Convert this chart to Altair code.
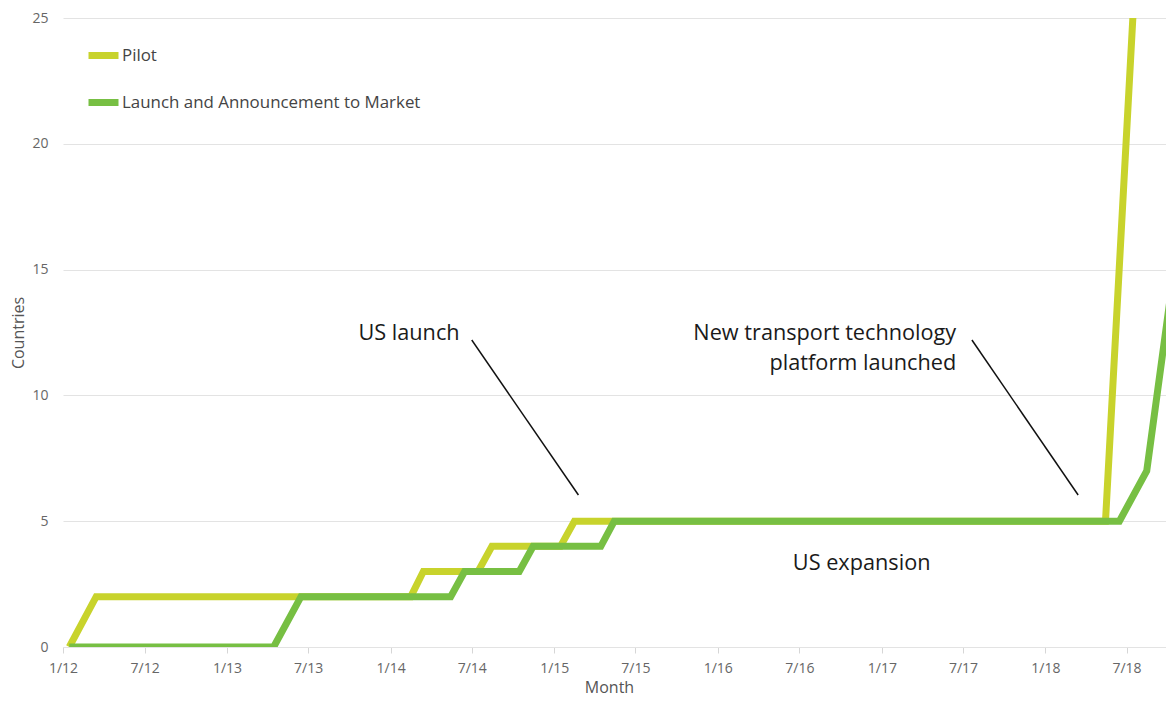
import altair as alt
import pandas as pd

# ---- data ----
series_names = ["Pilot", "Launch and Announcement to Market"]
series_colors = ["#c8d32c", "#77bf43"]

pilot_dates = ["2012-01-15", "2012-03-15", "2014-02-15", "2014-03-15", "2014-07-15",
               "2014-08-15", "2015-01-15", "2015-02-15", "2018-05-15", "2018-07-15",
               "2018-08-15"]
pilot_values = [0, 2, 2, 3, 3, 4, 4, 5, 5, 25, 35]

launch_dates = ["2012-01-15", "2013-04-15", "2013-06-15", "2014-05-15", "2014-06-15",
                "2014-10-15", "2014-11-15", "2015-04-15", "2015-05-15", "2018-06-15",
                "2018-08-15", "2018-10-15"]
launch_values = [0, 0, 2, 2, 3, 3, 4, 4, 5, 5, 7, 15]

x_tick_years = [2012, 2012, 2013, 2013, 2014, 2014, 2015, 2015, 2016, 2016, 2017, 2017, 2018, 2018]
x_tick_months = [1, 7, 1, 7, 1, 7, 1, 7, 1, 7, 1, 7, 1, 7]
y_ticks = [0, 5, 10, 15, 20, 25]

note_center_text = ["US launch", "US expansion"]
note_center_dates = ["2014-02-11", "2016-11-17"]
note_center_values = [12.2, 3.06]

note_right_text = ["New transport technology", "platform launched"]
note_right_dates = ["2017-06-16", "2017-06-16"]
note_right_values = [12.2, 11.0]

pointer_start_dates = ["2014-07-01", "2017-07-21"]
pointer_start_values = [12.2, 12.2]
pointer_end_dates = ["2015-02-24", "2018-03-15"]
pointer_end_values = [6.04, 6.04]

# ---- tables ----
lines_df = pd.DataFrame({
    "date": pilot_dates + launch_dates,
    "value": pilot_values + launch_values,
    "series": [series_names[0]] * len(pilot_dates) + [series_names[1]] * len(launch_dates),
})
center_df = pd.DataFrame({"date": note_center_dates, "value": note_center_values, "label": note_center_text})
right_df = pd.DataFrame({"date": note_right_dates, "value": note_right_values, "label": note_right_text})
pointer_df = pd.DataFrame({"date": pointer_start_dates, "value": pointer_start_values,
                           "d2": pointer_end_dates, "v2": pointer_end_values})

FONT = "Open Sans"

x_scale = alt.Scale(type="utc", domain=[alt.DateTime(year=2012, month=1, date=1, utc=True),
                                        alt.DateTime(year=2018, month=9, date=27, utc=True)])
y_scale = alt.Scale(domain=[0, 25], nice=False)
color_scale = alt.Scale(domain=series_names, range=series_colors)

x_axis = alt.Axis(
    values=[alt.DateTime(year=y, month=m, date=1, utc=True) for y, m in zip(x_tick_years, x_tick_months)],
    labelExpr="utcFormat(datum.value, '%-m/%y')", labelFlush=False, labelOverlap=False,
    title="Month", grid=False,
    domainColor="#e3e3e3", tickColor="#d6d6d6", tickSize=6, labelPadding=8,
    labelFont=FONT, labelFontSize=14, labelColor="#666666",
    titleFont=FONT, titleFontSize=16, titleColor="#555555", titleFontWeight="normal",
    titleBaseline="alphabetic", titleY=45, titleX=546, titleAlign="center",
)
y_axis = alt.Axis(
    values=y_ticks, title="Countries", grid=True, gridColor="#e3e3e3", domain=False, ticks=False,
    labelPadding=15, labelFont=FONT, labelFontSize=14, labelColor="#666666",
    titleFont=FONT, titleFontSize=16, titleColor="#555555", titleFontWeight="normal",
    titleBaseline="alphabetic", titleX=-40,
)
legend = alt.Legend(
    title=None, orient="none", legendX=22, legendY=19, direction="vertical",
    symbolType="stroke", symbolSize=900, symbolStrokeWidth=7,
    labelFont=FONT, labelFontSize=16.9, labelColor="#444444", labelOffset=0, labelLimit=0,
    rowPadding=14, padding=0,
)

X = alt.X("date:T", scale=x_scale, axis=x_axis)
Y = alt.Y("value:Q", scale=y_scale, axis=y_axis)
color_enc = alt.Color("series:N", scale=color_scale, legend=legend)


def series_layer(name):
    return alt.Chart(lines_df).transform_filter(alt.datum.series == name).mark_line(
        strokeWidth=7, clip=True
    ).encode(x=X, y=Y, color=color_enc)


pilot = series_layer(series_names[0])
launch = series_layer(series_names[1])

pointers = alt.Chart(pointer_df).mark_rule(color="#111111", strokeWidth=1.5).encode(
    x=X, x2="d2:T", y=Y, y2="v2:Q",
)

center_notes = alt.Chart(center_df).mark_text(
    align="center", baseline="alphabetic", font=FONT, fontSize=21.7, color="#1a1a1a"
).encode(x=X, y=Y, text="label:N")

right_notes = alt.Chart(right_df).mark_text(
    align="right", baseline="alphabetic", font=FONT, fontSize=21.7, color="#1a1a1a"
).encode(x=X, y=Y, text="label:N")

chart = alt.layer(pilot, launch, pointers, center_notes, right_notes).properties(
    width=1103, height=629,
    padding={"left": 55, "top": 10, "right": 0, "bottom": 49},
    autosize=alt.AutoSizeParams(type="none"),
).configure(font=FONT).configure_view(stroke=None)

chart.save("out.html", embed_options={"renderer": "svg", "actions": False})
